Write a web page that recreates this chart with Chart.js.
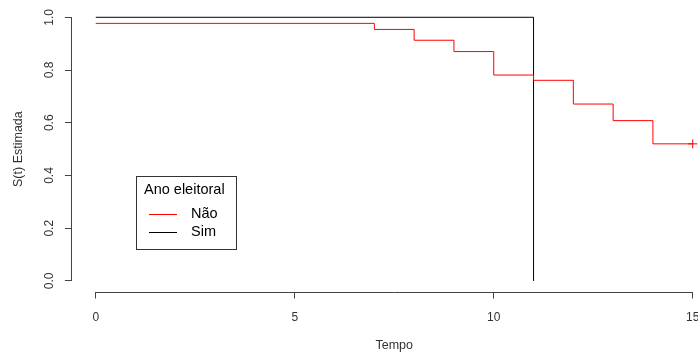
<!DOCTYPE html>
<html>
<head>
<meta charset="utf-8">
<script src="https://cdn.jsdelivr.net/npm/chart.js@4.4.1/dist/chart.umd.min.js"></script>
<style>
    html, body { margin: 0; padding: 0; background: #fff; overflow: hidden; }
    #wrap { width: 730px; height: 356px; }
</style>
</head>
<body>
<div id="wrap"><canvas id="kmChart" width="730" height="356"></canvas></div>
<script>
// Kaplan-Meier estimates
var tempoNao = [0, 7, 8, 9, 10, 11, 12, 13, 14, 15];
var survNao = [0.977, 0.954, 0.913, 0.870, 0.781, 0.761, 0.671, 0.608, 0.520, 0.520];
var tempoSim = [0, 11];
var survSim = [1, 0];
var censorTempo = [15];
var censorSurv = [0.52];

var xTicks = [0, 5, 10, 15];
var yTicks = [0, 0.2, 0.4, 0.6, 0.8, 1.0];

var axisColor = '#444';

function toPoints(xs, ys) {
    return xs.map(function (x, i) { return { x: x, y: ys[i] }; });
}

// R style detached axes: line only spans the first to the last tick
var rAxes = {
    id: 'rAxes',
    afterDraw: function (chart) {
        var ctx = chart.ctx;
        var xs = chart.scales.x, ys = chart.scales.y;
        var area = chart.chartArea;
        ctx.save();
        ctx.strokeStyle = axisColor;
        ctx.lineWidth = 1;
        ctx.beginPath();
        var yb = Math.round(area.bottom) + 0.5;
        ctx.moveTo(xs.getPixelForValue(xTicks[0]), yb);
        ctx.lineTo(xs.getPixelForValue(xTicks[xTicks.length - 1]), yb);
        var xl = Math.round(area.left) - 0.5;
        ctx.moveTo(xl, ys.getPixelForValue(yTicks[0]));
        ctx.lineTo(xl, ys.getPixelForValue(yTicks[yTicks.length - 1]));
        ctx.stroke();
        ctx.restore();
    }
};

// legend box like R's legend(title = ...)
var boxLegend = {
    id: 'boxLegend',
    afterDraw: function (chart) {
        var ctx = chart.ctx;
        var sets = chart.data.datasets.filter(function (d) { return !d.noLegend; });
        ctx.save();
        ctx.strokeStyle = '#333';
        ctx.lineWidth = 1;
        ctx.strokeRect(136.5, 176.5, 100, 73);
        ctx.fillStyle = '#000';
        ctx.font = '14.5px "Liberation Sans", Arial, sans-serif';
        ctx.textBaseline = 'middle';
        ctx.textAlign = 'left';
        ctx.fillText('Ano eleitoral', 144, 190);
        sets.forEach(function (d, i) {
            var y = 213.5 + i * 18.5;
            ctx.strokeStyle = d.borderColor;
            ctx.beginPath();
            ctx.moveTo(149, Math.round(y) + 0.5);
            ctx.lineTo(177, Math.round(y) + 0.5);
            ctx.stroke();
            ctx.fillText(d.label, 191, y);
        });
        ctx.restore();
    }
};

var ctx = document.getElementById('kmChart').getContext('2d');
new Chart(ctx, {
    type: 'line',
    data: {
        datasets: [{
            label: 'Não',
            data: toPoints(tempoNao, survNao),
            borderColor: '#ff0000',
            borderWidth: 1,
            stepped: 'before',
            pointRadius: 0,
            fill: false
        }, {
            label: 'Sim',
            data: toPoints(tempoSim, survSim),
            borderColor: '#000000',
            borderWidth: 1,
            stepped: 'before',
            pointRadius: 0,
            fill: false
        }, {
            label: 'censura',
            noLegend: true,
            data: toPoints(censorTempo, censorSurv),
            showLine: false,
            pointStyle: 'cross',
            pointRadius: 4.5,
            borderColor: '#ff0000',
            backgroundColor: '#ff0000',
            pointBorderWidth: 1
        }]
    },
    options: {
        responsive: false,
        animation: false,
        devicePixelRatio: 1,
        layout: { padding: { top: 6.75, right: 13.4, left: 0, bottom: 0 } },
        plugins: {
            legend: { display: false },
            tooltip: { enabled: false }
        },
        scales: {
            x: {
                type: 'linear',
                min: -0.6,
                max: 15.6,
                afterBuildTicks: function (axis) {
                    axis.ticks = xTicks.map(function (v) { return { value: v }; });
                },
                afterFit: function (axis) {
                    axis.height = 64.5;
                    axis.paddingLeft = 0;
                    axis.paddingRight = 0;
                },
                border: { display: false },
                grid: { drawOnChartArea: false, drawTicks: true, tickLength: 7, color: axisColor },
                ticks: {
                    autoSkip: false,
                    maxRotation: 0,
                    padding: 12,
                    color: '#333',
                    font: { family: '"Liberation Sans", Arial, sans-serif', size: 12 },
                    callback: function (v) { return String(v); }
                },
                title: {
                    display: true,
                    text: 'Tempo',
                    color: '#333',
                    font: { family: '"Liberation Sans", Arial, sans-serif', size: 12.5 },
                    padding: { top: 0, bottom: 2.5 }
                }
            },
            y: {
                type: 'linear',
                min: -0.04,
                max: 1.04,
                afterBuildTicks: function (axis) {
                    axis.ticks = yTicks.map(function (v) { return { value: v }; });
                },
                afterFit: function (axis) {
                    axis.width = 71.9;
                    axis.paddingTop = 0;
                    axis.paddingBottom = 0;
                },
                border: { display: false },
                grid: { drawOnChartArea: false, drawTicks: true, tickLength: 7, color: axisColor },
                ticks: {
                    autoSkip: false,
                    minRotation: 90,
                    maxRotation: 90,
                    crossAlign: 'center',
                    padding: 7,
                    color: '#333',
                    font: { family: '"Liberation Sans", Arial, sans-serif', size: 12 },
                    callback: function (v) { return v.toFixed(1); }
                },
                title: {
                    display: true,
                    text: 'S(t) Estimada',
                    color: '#333',
                    font: { family: '"Liberation Sans", Arial, sans-serif', size: 12.5 },
                    padding: { top: 11, bottom: 0 }
                }
            }
        }
    },
    plugins: [rAxes, boxLegend]
});
</script>
</body>
</html>
